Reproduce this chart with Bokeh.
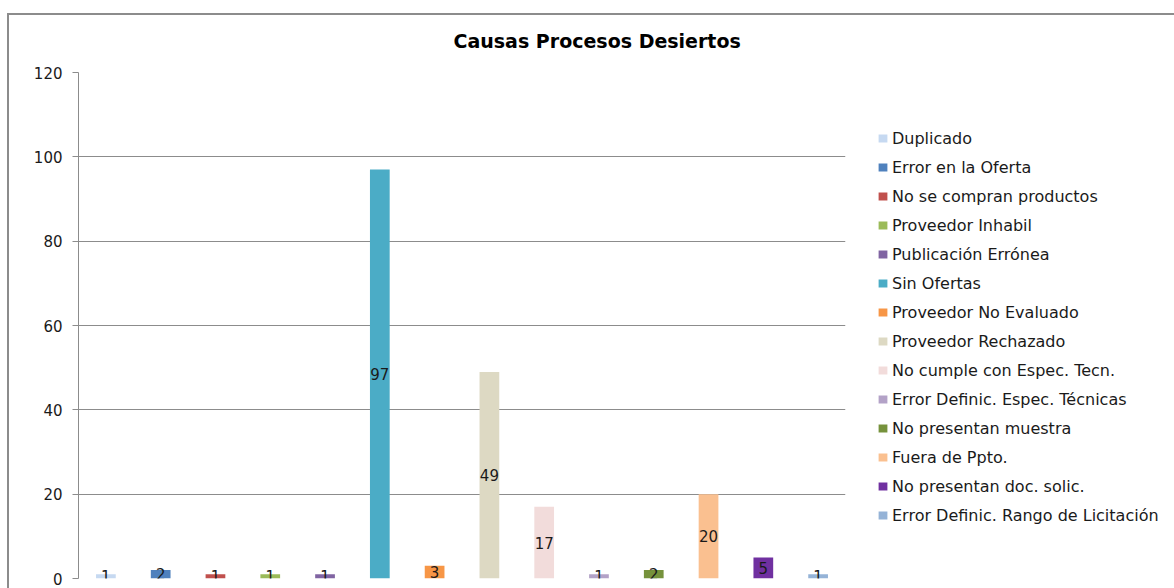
from bokeh.plotting import figure
from bokeh.models import (ColumnDataSource, Range1d, FactorRange, FixedTicker, LabelSet,
                          Legend, LegendItem)
from bokeh.core.properties import value
from bokeh.embed import file_html
from bokeh.resources import INLINE

categories = ["Duplicado", "Error en la Oferta", "No se compran productos", "Proveedor Inhabil",
              "Publicación Errónea", "Sin Ofertas", "Proveedor No Evaluado", "Proveedor Rechazado",
              "No cumple con Espec. Tecn.", "Error Definic. Espec. Técnicas", "No presentan muestra",
              "Fuera de Ppto.", "No presentan doc. solic.", "Error Definic. Rango de Licitación"]
values = [1, 2, 1, 1, 1, 97, 3, 49, 17, 1, 2, 20, 5, 1]
colors = ["#C6D9F1", "#4F81BD", "#C0504D", "#9BBB59", "#8064A2", "#4BACC6", "#F79646",
          "#DDD9C3", "#F2DCDB", "#B3A2C7", "#76923C", "#FAC090", "#7030A0", "#95B3D7"]
y_ticks = [0, 20, 40, 60, 80, 100, 120]
title_text = "Causas Procesos Desiertos"

FONT = "DejaVu Sans"

src = ColumnDataSource(dict(
    cat=categories, val=values, col=colors,
    mid=[v / 2 for v in values], lab=[str(v) for v in values]))

p = figure(x_range=FactorRange(*categories, range_padding=0), y_range=Range1d(0, 120),
           frame_width=767, frame_height=506, min_border_left=78, min_border_right=325,
           min_border_top=72, min_border_bottom=10, output_backend="svg",
           toolbar_location=None, background_fill_color="white", border_fill_color=None,
           title=title_text)
p.outline_line_color = None
p.styles = {
    "background-color": "white",
    "background-image": "linear-gradient(#8c8c8c, #8c8c8c), linear-gradient(#8c8c8c, #8c8c8c)",
    "background-position": "7px 13px, 7px 13px",
    "background-size": "2px 100%, 100% 2px",
    "background-repeat": "no-repeat, no-repeat",
}

p.title.align = "left"
p.title.offset = 375
p.title.standoff = 41
p.title.text_font = FONT
p.title.text_font_size = "19px"
p.title.text_font_style = "bold"
p.title.text_color = "#000000"

renderers = []
for i, c in enumerate(categories):
    r = p.vbar(x=[c], top=[values[i]], width=0.36, fill_color=colors[i], line_color=None)
    renderers.append(r)

labels = LabelSet(x="cat", y="mid", text="lab", source=src, text_align="center",
                  text_baseline="middle", text_font=value(FONT), text_font_size=value("15px"),
                  text_color=value("#1a1a1a"))
p.add_layout(labels)

p.xaxis.visible = False
p.xgrid.visible = False
p.ygrid.grid_line_color = "#8c8c8c"
p.yaxis.ticker = FixedTicker(ticks=y_ticks)
p.yaxis.axis_line_color = "#8c8c8c"
p.yaxis.major_tick_line_color = "#8c8c8c"
p.yaxis.major_tick_out = 6
p.yaxis.major_tick_in = 0
p.yaxis.minor_tick_line_color = None
p.yaxis.major_label_text_font = FONT
p.yaxis.major_label_text_font_size = "15px"
p.yaxis.major_label_text_color = "#1a1a1a"
p.yaxis.major_label_standoff = 10

items = [LegendItem(label=c, renderers=[renderers[i]]) for i, c in enumerate(categories)]
legend = Legend(items=items, location=(32, 53), orientation="vertical",
                glyph_width=11, glyph_height=10, label_height=20, spacing=9,
                label_standoff=4, padding=0, margin=0, border_line_color=None,
                background_fill_alpha=0, label_text_font=FONT, label_text_font_size="16px",
                label_text_color="#1a1a1a")
p.add_layout(legend, "right")

open("out.html", "w").write(file_html(p, INLINE))
